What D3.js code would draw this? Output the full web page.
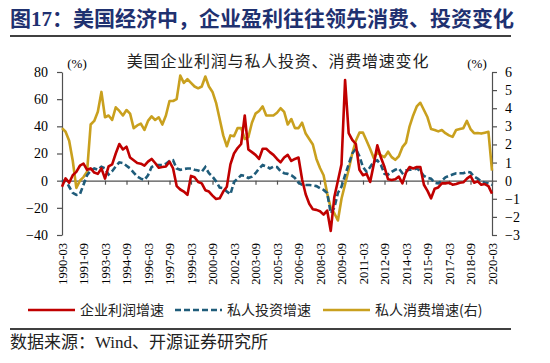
<!DOCTYPE html>
<html>
<head>
<meta charset="utf-8">
<script src="https://cdn.jsdelivr.net/npm/d3@7"></script>
<style>
  body { margin: 0; background: #fff; }
  svg { display: block; }
</style>
</head>
<body>
<div id="chart"></div>
<script>
var width = 550, height = 363;
var plot = {left: 62, right: 492, top: 72, bottom: 235};

// quarter categories 1990-03 .. 2020-03
var quarters = [];
for (var yr = 1990; yr <= 2020; yr++) {
    ["03", "06", "09", "12"].forEach(function(m) {
        if (yr < 2020 || m === "03") quarters.push(yr + "-" + m);
    });
}

var tickLabels = ["1990-03","1991-09","1993-03","1994-09","1996-03","1997-09","1999-03",
    "2000-09","2002-03","2003-09","2005-03","2006-09","2008-03","2009-09","2011-03",
    "2012-09","2014-03","2015-09","2017-03","2018-09","2020-03"];

var leftTicks = [-40, -20, 0, 20, 40, 60, 80];
var rightTicks = [-3, -2, -1, 0, 1, 2, 3, 4, 5, 6];

// 企业利润增速 (left axis, %)
var profit = [
    -4.4, 1.7, -1.5, 4, 6.5, 11, 12.5, 8, 9, 6,
    5, 9, 1.5, 10.5, 12, 20, 27, 23, 25, 17,
    15, 13, 12.5, 11, 14, 16, 13, 9.5, 10, 10.5,
    14, 9, -4, -6.5, -8, -10.5, 3.5, 2.5, -1, -2,
    -7, -8, -11, -13.5, -13, -8, -4.5, 12, 20, 24,
    27, 48, 23, 21, 19, 16, 23.5, 23.5, 21, 19,
    16, 13.5, 17, 19, 14.5, 16, 17, 1, -10, -17,
    -21, -21.5, -22.5, -25, -22, -37, -12, 0, 12, 74,
    35, 30, 27, 8, 4, 5, -1, 12, 26, 17,
    10, 1, 0.5, 1, 3, -2, 6, 10, 9, 10,
    10, -3, -7.5, -13, -6, -5, -2, -2, -1.5, -3,
    -2.5, -1.5, -1.2, 1.5, 3.5, -1.5, -0.5, -3, -2.5, -4,
    -9.5];

// 私人投资增速 (left axis, %)
var invest = [
    -0.7, 0.5, -4.5, -9, -10.5, -10, -3, 4, 7.5, 9,
    8, 10.3, 9, 4.5, 7, 10.5, 13.5, 13, 11, 9,
    6, 3, 1.5, 0.5, 4, 10, 11.5, 11.5, 11.5, 12.5,
    14.5, 15, 9, 8, 8.5, 9, 9, 8, 7.5, 6.5,
    10, 5.5, 3, -0.5, -5, -5.5, -8, -10, -1, 1.5,
    4, 3.5, 2, 3, 5.5, 9, 11.5, 10.5, 9, 10.3,
    10, 7, 5.5, 5, 4, 2, -1.5, -3, -3.2, -3.2,
    -3.5, -4, -5.5, -6.8, -9, -24, -20, -9, -4.4, 4,
    12, 20, 23.5, 18, 10, 6.5, 10, 14, 15, 11.5,
    5, 4.5, 6.5, 8, 9, 5.5, 7.5, 8, 8, 9,
    7, 3.5, 2, 1.5, -1.5, -2, 0, 2.5, 3.5, 4.5,
    5.5, 5.5, 5.5, 6.5, 6, 3, 1.5, -0.5, -1.5, -2,
    -3.2];

// 私人消费增速 (right axis, %)
var consume = [
    2.9, 2.7, 2.2, 1.1, -0.4, 0.0, 0.2, 0.5, 3.1, 3.3,
    3.8, 4.9, 3.5, 3.6, 3.35, 4.05, 3.85, 3.6, 3.9, 3.7,
    2.9, 3.05, 3.15, 2.8, 3.3, 3.55, 3.35, 3.5, 3.1, 3.6,
    4.4, 4.4, 4.5, 5.8, 5.4, 5.6, 5.4, 5.2, 5.1, 5.2,
    5.75, 5.2, 4.9, 4.3, 3.4, 2.5, 1.9, 2.5, 2.45, 2.9,
    2.9, 2.3, 2.4, 3.2, 3.7, 3.85, 4.1, 3.6, 3.6, 3.6,
    3.75, 4.0, 3.8, 3.1, 3.4, 2.9, 2.9, 3.2, 2.6, 2.3,
    2.0, 1.2, 0.7, 0.3, -0.7, -1.5, -1.8, -2.2, -1.0, -0.2,
    0.6, 1.5, 2.2, 2.65, 2.65, 2.2, 1.75, 1.25, 1.55, 1.4,
    1.3, 1.6, 1.3, 1.15, 1.35, 1.85, 2.1, 3.0, 3.6, 4.1,
    4.3, 3.9, 3.5, 2.85, 2.8, 2.72, 2.8, 2.62, 2.5, 2.42,
    2.8, 2.85, 2.9, 3.3, 2.85, 2.62, 2.63, 2.6, 2.65, 2.7,
    0.55];

var seriesNames = ["企业利润增速", "私人投资增速", "私人消费增速(右)"];
var colors = ["#C00000", "#1F5C7A", "#C9A01E"];

var serif = "'Liberation Serif', 'Noto Sans CJK SC', serif";
var sans = "'Noto Sans CJK SC', sans-serif";

var svg = d3.select("#chart").append("svg")
    .attr("width", width)
    .attr("height", height);

// header
svg.append("text")
    .attr("x", 10).attr("y", 26)
    .style("font-family", serif)
    .style("font-size", "21px")
    .style("font-weight", "bold")
    .style("fill", "#1f3170")
    .text("图17：美国经济中，企业盈利往往领先消费、投资变化");

svg.append("line")
    .attr("x1", 10).attr("x2", 511).attr("y1", 36).attr("y2", 36)
    .style("stroke", "#000").style("stroke-width", 1.3);

// chart title
svg.append("text")
    .attr("x", 278).attr("y", 67)
    .attr("text-anchor", "middle")
    .style("font-family", sans)
    .style("font-size", "16px")
    .style("letter-spacing", "0.8px")
    .style("fill", "#222")
    .text("美国企业利润与私人投资、消费增速变化");

svg.append("text").attr("x", 77).attr("y", 68).attr("text-anchor", "middle")
    .style("font-family", serif).style("font-size", "13px").text("(%)");
svg.append("text").attr("x", 477).attr("y", 68).attr("text-anchor", "middle")
    .style("font-family", serif).style("font-size", "13px").text("(%)");

// scales
var x = d3.scalePoint().domain(quarters).range([plot.left, plot.right]);
var yL = d3.scaleLinear().domain([-40, 80]).range([plot.bottom, plot.top]);
var yR = d3.scaleLinear().domain([-3, 6]).range([plot.bottom, plot.top]);

var axisColor = "#505050";

// left axis
var gl = svg.append("g")
    .attr("transform", "translate(" + plot.left + ",0)")
    .call(d3.axisLeft(yL).tickValues(leftTicks).tickSize(5).tickSizeOuter(0));
gl.selectAll("text").style("font-family", serif).style("font-size", "14px").style("fill", "#000").attr("x", -14);

// right axis
var gr = svg.append("g")
    .attr("transform", "translate(" + plot.right + ",0)")
    .call(d3.axisRight(yR).tickValues(rightTicks).tickSize(5).tickSizeOuter(0));
gr.selectAll("text").style("font-family", serif).style("font-size", "14px").style("fill", "#000").attr("x", 13);

// zero line with ticks
var gz = svg.append("g")
    .attr("transform", "translate(0," + yL(0) + ")")
    .call(d3.axisBottom(x).tickValues(tickLabels).tickSize(4).tickSizeOuter(0).tickFormat(""));

// category labels below plot
var gb = svg.append("g")
    .attr("transform", "translate(0," + (plot.bottom + 8) + ")")
    .call(d3.axisBottom(x).tickValues(tickLabels).tickSize(0));
gb.select(".domain").remove();
gb.selectAll("text")
    .attr("transform", "rotate(-90)")
    .attr("x", 0).attr("y", 0).attr("dy", "0.35em")
    .attr("text-anchor", "end")
    .style("font-family", serif).style("font-size", "12.5px").style("fill", "#000");

[gl, gr, gz].forEach(function(g) {
    g.selectAll(".domain, line").style("stroke", axisColor).style("stroke-width", 1.2);
});

// lines
var lineL = d3.line().x(function(d, i) { return x(quarters[i]); }).y(function(d) { return yL(d); });
var lineR = d3.line().x(function(d, i) { return x(quarters[i]); }).y(function(d) { return yR(d); });

svg.append("path").datum(consume).attr("d", lineR)
    .style("fill", "none").style("stroke", colors[2]).style("stroke-width", 2.6)
    .style("stroke-linejoin", "round");
svg.append("path").datum(invest).attr("d", lineL)
    .style("fill", "none").style("stroke", colors[1]).style("stroke-width", 2.6)
    .style("stroke-dasharray", "6,3");
svg.append("path").datum(profit).attr("d", lineL)
    .style("fill", "none").style("stroke", colors[0]).style("stroke-width", 2.6)
    .style("stroke-linejoin", "round");

// legend
var legendX = [28, 175, 323];
seriesNames.forEach(function(name, i) {
    svg.append("line")
        .attr("x1", legendX[i]).attr("x2", legendX[i] + 47)
        .attr("y1", 310).attr("y2", 310)
        .style("stroke", colors[i]).style("stroke-width", 2.6)
        .style("stroke-dasharray", i === 1 ? "6,3" : null);
    svg.append("text")
        .attr("x", legendX[i] + 52).attr("y", 315)
        .style("font-family", sans).style("font-size", "14px").style("fill", "#222")
        .text(name);
});

svg.append("line")
    .attr("x1", 10).attr("x2", 511).attr("y1", 329).attr("y2", 329)
    .style("stroke", "#000").style("stroke-width", 1.3);

svg.append("text")
    .attr("x", 10).attr("y", 348)
    .style("font-family", serif).style("font-size", "17px").style("fill", "#222")
    .text("数据来源：Wind、开源证券研究所");
</script>
</body>
</html>
